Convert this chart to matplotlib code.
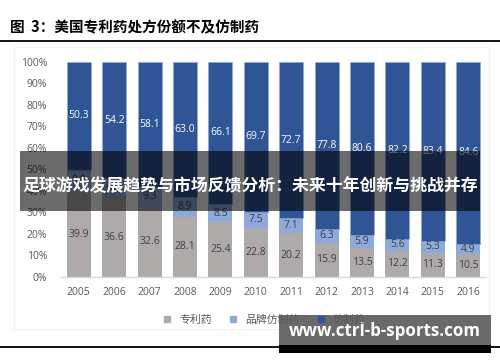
import matplotlib
matplotlib.use('Agg')
import matplotlib.pyplot as plt
import numpy as np
from matplotlib.lines import Line2D
from matplotlib.patches import Rectangle

plt.rcParams['font.family'] = ['Open Sans', 'Noto Sans CJK SC', 'DejaVu Sans']

years = ['2005', '2006', '2007', '2008', '2009', '2010',
         '2011', '2012', '2013', '2014', '2015', '2016']
patent = [39.9, 36.6, 32.6, 28.1, 25.4, 22.8, 20.2, 15.9, 13.5, 12.2, 11.3, 10.5]
branded_generic = [9.8, 9.2, 9.3, 8.9, 8.5, 7.5, 7.1, 6.3, 5.9, 5.6, 5.3, 4.9]
generic = [50.3, 54.2, 58.1, 63.0, 66.1, 69.7, 72.7, 77.8, 80.6, 82.2, 83.4, 84.6]
series_names = ['专利药', '品牌仿制药', '仿制药']

c_gray = '#AEAAAA'
c_light = '#8EA9DB'
c_dark = '#2F5597'
txt = '#595959'

fig = plt.figure(figsize=(5.0, 3.62), dpi=100)
ax = fig.add_axes([0.122, 0.235, 0.85, 0.594])

x = np.arange(len(years))
w = 0.68
ax.bar(x, patent, w, color=c_gray)
ax.bar(x, branded_generic, w, bottom=patent, color=c_light)
bottom3 = np.array(patent) + np.array(branded_generic)
ax.bar(x, generic, w, bottom=bottom3, color=c_dark, edgecolor='#8EA9DB', linewidth=0.4)

for i in range(len(years)):
    ax.text(x[i], patent[i] / 2, f'{patent[i]:.1f}', ha='center', va='center',
            fontsize=7.5, color='#404040')
    ax.text(x[i], patent[i] + branded_generic[i] / 2, f'{branded_generic[i]:.1f}',
            ha='center', va='center', fontsize=7.5, color='#404040')
    ax.text(x[i], bottom3[i] + generic[i] / 2, f'{generic[i]:.1f}', ha='center',
            va='center', fontsize=7.5, color='white')

ax.set_xlim(-0.5, len(years) - 0.5)
ax.set_ylim(0, 100)
ax.set_yticks(np.arange(0, 101, 10))
ax.set_yticklabels([f'{v}%' for v in range(0, 101, 10)])
ax.set_xticks(x)
ax.set_xticklabels(years)
ax.tick_params(axis='both', length=0, labelsize=7.5, labelcolor=txt)
ax.tick_params(axis='y', pad=10)
ax.tick_params(axis='x', pad=7)
for s in ['top', 'right', 'left']:
    ax.spines[s].set_visible(False)
ax.spines['bottom'].set_color('#D9D9D9')
ax.spines['bottom'].set_linewidth(1)

handles = [Line2D([], [], marker='s', linestyle='', markersize=4, color=c)
           for c in [c_gray, c_light, c_dark]]
fig.legend(handles, series_names, loc='center', bbox_to_anchor=(0.522, 0.116),
           ncol=3, frameon=False, fontsize=7.8, labelcolor=txt,
           handletextpad=0.1, columnspacing=1.0)

# title and frame lines
fig.text(0.02, 0.925, '图  3：美国专利药处方份额不及仿制药', fontsize=10.5,
         fontweight='bold', color='black', va='center', family=['Noto Sans CJK SC'])
fig.add_artist(Line2D([0, 1], [0.887, 0.887], color='black', linewidth=1.3))
fig.add_artist(Line2D([0, 1], [0.041, 0.041], color='black', linewidth=1.3))
fig.add_artist(Rectangle((0.028, 0.09), 0.95, 0.78, fill=False,
                         edgecolor='#F0F0F0', linewidth=0.6))

# overlay banner
fig.add_artist(Rectangle((0.04, 1 - 211 / 362), 0.92, 60 / 362, facecolor='black',
                         alpha=0.58, edgecolor='none'))
fig.text(0.5, 1 - 186 / 362, '足球游戏发展趋势与市场反馈分析：未来十年创新与挑战并存',
         ha='center', va='center', fontsize=12.2, fontweight='bold', color='white',
         family=['Noto Sans CJK SC'])

# watermark
fig.add_artist(Rectangle((279 / 500, 1 - 345 / 362), 212 / 500, 30 / 362,
                         facecolor='#5a5a5a', alpha=0.9, edgecolor='none'))
fig.add_artist(Rectangle((279 / 500, 1 - 353 / 362), 212 / 500, 8 / 362,
                         facecolor='black', edgecolor='none'))
fig.text(385 / 500, 1 - 331 / 362, 'www.ctrl-b-sports.com', ha='center', va='center',
         fontsize=12.2, fontweight='bold', color='white', family=['Open Sans', 'DejaVu Sans'])

fig.savefig('out.png', dpi=100)
